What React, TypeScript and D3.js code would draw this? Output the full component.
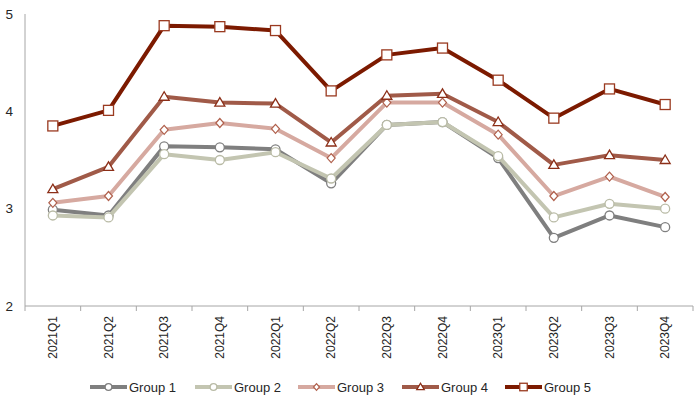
import React from 'react';
import * as d3 from 'd3';

const quarters = ['2021Q1', '2021Q2', '2021Q3', '2021Q4', '2022Q1', '2022Q2', '2022Q3', '2022Q4', '2023Q1', '2023Q2', '2023Q3', '2023Q4'];
const group1 = [2.99, 2.93, 3.64, 3.63, 3.61, 3.26, 3.86, 3.89, 3.52, 2.70, 2.93, 2.81];
const group2 = [2.93, 2.91, 3.56, 3.50, 3.58, 3.31, 3.86, 3.89, 3.54, 2.91, 3.05, 3.00];
const group3 = [3.06, 3.13, 3.81, 3.88, 3.82, 3.52, 4.09, 4.09, 3.76, 3.13, 3.33, 3.12];
const group4 = [3.20, 3.43, 4.15, 4.09, 4.08, 3.68, 4.16, 4.18, 3.89, 3.45, 3.55, 3.50];
const group5 = [3.85, 4.01, 4.88, 4.87, 4.83, 4.21, 4.58, 4.65, 4.32, 3.93, 4.23, 4.07];
const yTicks = [2, 3, 4, 5];

const series = [
  { name: 'Group 1', values: group1, color: '#7f7f7f', mark: '#7f7f7f', shape: 'circle' },
  { name: 'Group 2', values: group2, color: '#c3c5b1', mark: '#b9bba6', shape: 'circle' },
  { name: 'Group 3', values: group3, color: '#d6a9a0', mark: '#b0604c', shape: 'diamond' },
  { name: 'Group 4', values: group4, color: '#a05a48', mark: '#8c2f18', shape: 'triangle' },
  { name: 'Group 5', values: group5, color: '#7c1a00', mark: '#9a3a20', shape: 'square' },
];

// s = size factor, 1 for the plot, smaller for the legend
const Marker = ({ shape, x, y, stroke, s = 1 }: { shape: string; x: number; y: number; stroke: string; s?: number }) => {
  if (shape === 'circle') return <circle cx={x} cy={y} r={4.5 * s} fill="#fff" stroke={stroke} strokeWidth={1.3} />;
  if (shape === 'diamond')
    return <path d={`M${x},${y - 4.5 * s}L${x + 4 * s},${y}L${x},${y + 4.5 * s}L${x - 4 * s},${y}Z`} fill="#fff" stroke={stroke} strokeWidth={1.2} />;
  if (shape === 'triangle')
    return <path d={`M${x},${y - 5 * s}L${x + 5 * s},${y + 3.5 * s}L${x - 5 * s},${y + 3.5 * s}Z`} fill="#fff" stroke={stroke} strokeWidth={1.3} />;
  return <rect x={x - 5 * s} y={y - 5 * s} width={10 * s} height={10 * s} fill="#fff" stroke={stroke} strokeWidth={1.3} />;
};

export default function App() {
  const width = 700;
  const height = 408;
  const left = 25;
  const right = 693;
  const top = 14;
  const bottom = 306;

  const x = d3.scaleBand<string>().domain(quarters).range([left, right]);
  const y = d3.scaleLinear().domain([2, 5]).range([bottom, top]);
  const cx = (q: string) => (x(q) ?? 0) + x.bandwidth() / 2;

  const line = d3
    .line<number>()
    .x((_, i) => cx(quarters[i]))
    .y((d) => y(d));

  const font = '"Liberation Sans", Arial, sans-serif';
  const legendX = [90, 195, 298, 402, 505];

  return (
    <svg width={width} height={height} style={{ position: 'absolute', left: 0, top: 0, fontFamily: font }}>
      <line x1={left} x2={left} y1={top} y2={bottom} stroke="#a6a6a6" strokeWidth={1} />
      <line x1={left} x2={right} y1={bottom} y2={bottom} stroke="#a6a6a6" strokeWidth={1} />
      {quarters.concat(['']).map((q, i) => {
        const xx = left + i * x.step();
        return <line key={'t' + i} x1={xx} x2={xx} y1={bottom} y2={bottom + 5} stroke="#a6a6a6" />;
      })}
      {yTicks.map((t) => (
        <text key={t} x={left - 12} y={y(t)} dy="0.35em" textAnchor="end" fontSize={13.5} fill="#262626">
          {t}
        </text>
      ))}
      {quarters.map((q) => (
        <text
          key={q}
          transform={`translate(${cx(q)},${bottom + 10}) rotate(-90)`}
          textAnchor="end"
          dy="0.35em"
          fontSize={12}
          fill="#262626"
        >
          {q}
        </text>
      ))}
      {series.map((s) => (
        <g key={s.name}>
          <path d={line(s.values) ?? ''} fill="none" stroke={s.color} strokeWidth={4} strokeLinejoin="round" />
          {s.values.map((v, i) => (
            <Marker key={i} shape={s.shape} x={cx(quarters[i])} y={y(v)} stroke={s.mark} />
          ))}
        </g>
      ))}
      {series.map((s, i) => (
        <g key={'l' + s.name} transform={`translate(${legendX[i]},387)`}>
          <line x1={0} x2={37} y1={0} y2={0} stroke={s.color} strokeWidth={4} />
          <Marker shape={s.shape} x={18.5} y={0} stroke={s.mark} s={0.75} />
          <text x={39} y={0} dy="0.35em" fontSize={13} fill="#262626">
            {s.name}
          </text>
        </g>
      ))}
    </svg>
  );
}
